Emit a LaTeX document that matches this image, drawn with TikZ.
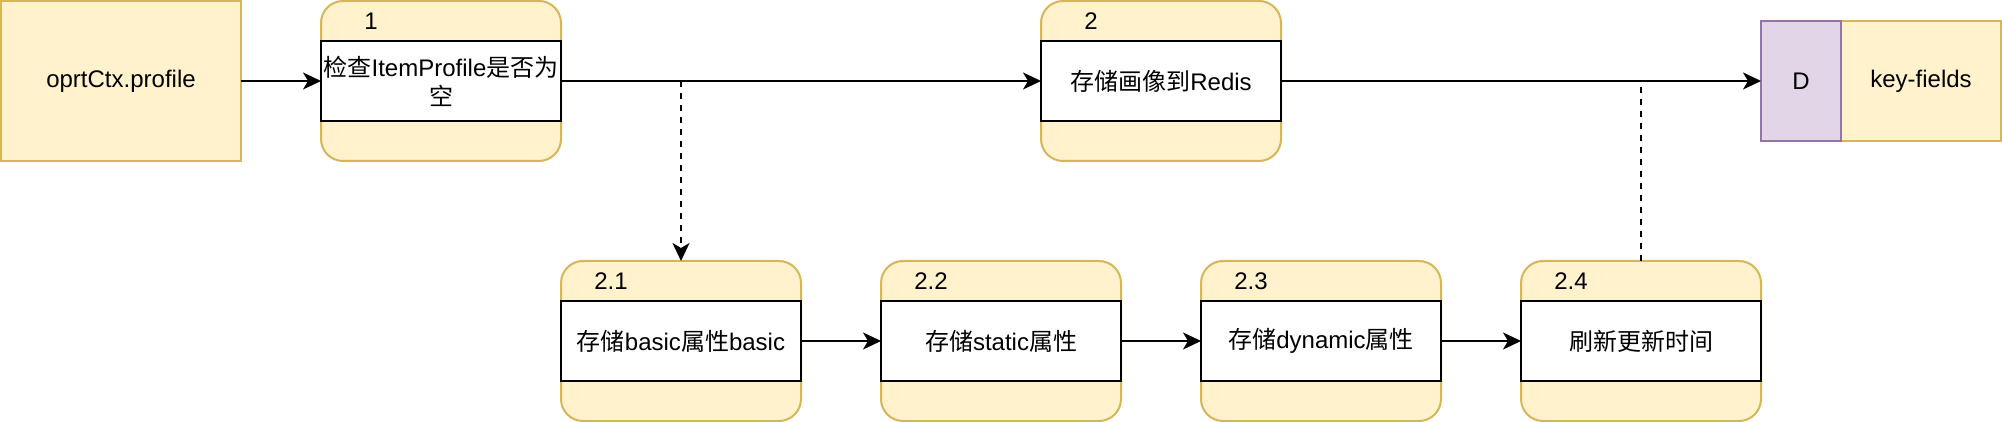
\documentclass[tikz,border=0pt]{standalone}
\usepackage{fontspec}
\setmainfont{Liberation Sans}
\newfontfamily\cjkfont{Noto Sans CJK SC}
\newcommand\zhtxt[1]{{\cjkfont #1}}
\usetikzlibrary{arrows.meta}
\definecolor{yfill}{HTML}{FFF2CC}
\definecolor{ystroke}{HTML}{D6B656}
\definecolor{pfill}{HTML}{E1D5E7}
\definecolor{pstroke}{HTML}{9673A6}
\begin{document}
\begin{tikzpicture}[x=1pt,y=-1pt,
  every node/.style={font=\fontsize{12}{14.4}\selectfont, inner sep=0pt, outer sep=0pt},
  ybox/.style={draw=ystroke, fill=yfill, line width=1pt, minimum width=120pt, minimum height=80pt},
  proc/.style={draw=ystroke, fill=yfill, line width=1pt, rounded corners=11pt, minimum width=120pt, minimum height=80pt},
  procin/.style={draw=black, fill=white, line width=1pt, minimum width=120pt, minimum height=40pt, align=center},
  storeid/.style={draw=pstroke, fill=pfill, line width=1pt, minimum width=40pt, minimum height=60pt},
  storename/.style={draw=ystroke, fill=yfill, line width=1pt, minimum width=80pt, minimum height=60pt},
  flow/.style={line width=1pt, -{Stealth[length=9pt,width=8.5pt,inset=2.5pt]}},
  dashflow/.style={flow, dash pattern=on 3pt off 3pt},
  dashline/.style={line width=1pt, dash pattern=on 3pt off 3pt},
]
\useasboundingbox (0,0) rectangle (1001,211);

% source
\node[ybox] (ctx) at (60.5,40.5) {oprtCtx.profile};

% process 1
\node[proc] (p1) at (220.5,40.5) {};
\node[procin] (p1in) at (220.5,40.5) {\zhtxt{检查}ItemProfile\zhtxt{是否为}\\\zhtxt{空}};
\node (p1lab) at (185.5,10.5) {1};

% process 2
\node[proc] (p2) at (580.5,40.5) {};
\node[procin] (p2in) at (580.5,40.5) {\zhtxt{存储画像到}Redis};
\node (p2lab) at (545.5,10.5) {2};

% data store
\node[storename] (kf) at (960.5,40.5) {key-fields};
\node[storeid] (D) at (900.5,40.5) {D};

% sub-processes
\node[proc] (p21) at (340.5,170.5) {};
\node[procin] (p21in) at (340.5,170.5) {\zhtxt{存储}basic\zhtxt{属性}basic};
\node (p21lab) at (305.5,140.5) {2.1};

\node[proc] (p22) at (500.5,170.5) {};
\node[procin] (p22in) at (500.5,170.5) {\zhtxt{存储}static\zhtxt{属性}};
\node (p22lab) at (465.5,140.5) {2.2};

\node[proc] (p23) at (660.5,170.5) {};
\node[procin] (p23in) at (660.5,170.5) {\zhtxt{存储}dynamic\zhtxt{属性}};
\node (p23lab) at (625.5,140.5) {2.3};

\node[proc] (p24) at (820.5,170.5) {};
\node[procin] (p24in) at (820.5,170.5) {\zhtxt{刷新更新时间}};
\node (p24lab) at (785.5,140.5) {2.4};

% connectors
\coordinate (split) at (340.5,40.5);
\coordinate (join) at (820.5,43.5);

\draw[flow] (ctx.east) -- (p1.west);
\draw[flow] (p1.east) -- (p2.west);
\draw[flow] (p2.east) -- (D.west);
\draw[dashflow] (split) -- (p21.north);
\draw[dashline] (p24.north) -- (join);
\draw[flow] (p21.east) -- (p22.west);
\draw[flow] (p22.east) -- (p23.west);
\draw[flow] (p23.east) -- (p24.west);
\end{tikzpicture}
\end{document}
